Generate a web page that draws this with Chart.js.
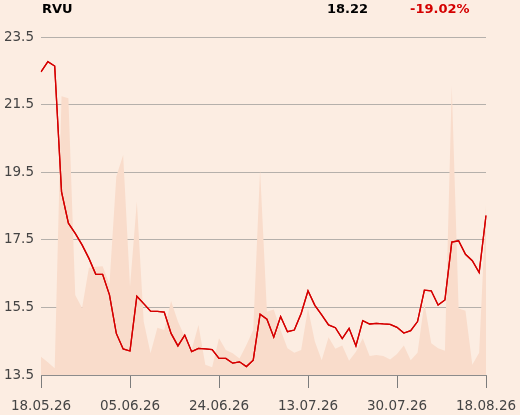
<!DOCTYPE html>
<html>
<head>
<meta charset="utf-8">
<script src="https://cdn.jsdelivr.net/npm/chart.js@4.4.1/dist/chart.umd.min.js"></script>
<style>
  html, body { margin: 0; padding: 0; background: #fcede2; }
  #wrap { position: relative; width: 520px; height: 415px; font-family: "DejaVu Sans", sans-serif; }
  canvas { position: absolute; left: 0; top: 0; }
  .hdr { position: absolute; top: 1px; font-size: 13px; font-weight: bold; line-height: 16px; color: #000; }
</style>
</head>
<body>
<div id="wrap">
  <canvas id="chart" width="520" height="415"></canvas>
  <span class="hdr" style="left:42px">RVU</span>
  <span class="hdr" style="left:327px">18.22</span>
  <span class="hdr" style="left:410px;color:#d40000">-19.02%</span>
</div>
<script>
// trading days shown on the x axis
const dates = [
  '18.05.26','19.05.26','20.05.26','21.05.26','22.05.26','26.05.26','27.05.26','28.05.26','29.05.26',
  '01.06.26','02.06.26','03.06.26','04.06.26','05.06.26',
  '08.06.26','09.06.26','10.06.26','11.06.26','12.06.26',
  '15.06.26','16.06.26','17.06.26','18.06.26','19.06.26',
  '22.06.26','23.06.26','24.06.26','25.06.26','26.06.26',
  '29.06.26','30.06.26','01.07.26','02.07.26','03.07.26',
  '06.07.26','07.07.26','08.07.26','09.07.26','10.07.26',
  '13.07.26','14.07.26','15.07.26','16.07.26','17.07.26',
  '20.07.26','21.07.26','22.07.26','23.07.26','24.07.26',
  '27.07.26','28.07.26','29.07.26','30.07.26','31.07.26',
  '03.08.26','04.08.26','05.08.26','06.08.26','07.08.26',
  '10.08.26','11.08.26','12.08.26','13.08.26','14.08.26',
  '17.08.26','18.08.26'
];
const tickLabels = ['18.05.26', '05.06.26', '24.06.26', '13.07.26', '30.07.26', '18.08.26'];
const priceTicks = [13.5, 15.5, 17.5, 19.5, 21.5, 23.5];

// closing price
const price = [
  22.47, 22.77, 22.64, 18.92, 17.99, 17.69, 17.35, 16.95, 16.48, 16.48,
  15.87, 14.73, 14.27, 14.21, 15.83, 15.61, 15.39, 15.38, 15.36, 14.73,
  14.36, 14.68, 14.19, 14.29, 14.27, 14.25, 13.99, 13.99, 13.85, 13.89,
  13.75, 13.94, 15.30, 15.15, 14.62, 15.23, 14.78, 14.83, 15.32, 15.99,
  15.56, 15.28, 14.98, 14.90, 14.58, 14.88, 14.36, 15.11, 15.01, 15.03,
  15.01, 15.00, 14.91, 14.74, 14.81, 15.08, 16.01, 15.99, 15.57, 15.72,
  17.43, 17.47, 17.07, 16.88, 16.53, 18.22
];

// traded volume (relative, 0-100)
const volume = [
  5.4, 3.8, 2.0, 82.5, 81.9, 23.7, 19.8, 31.7, 32.0, 32.2,
  26.9, 58.7, 65.1, 26.1, 51.3, 15.8, 6.4, 14.0, 13.3, 21.9,
  15.8, 11.3, 7.4, 14.8, 3.0, 2.3, 10.9, 7.4, 6.4, 4.9,
  8.9, 13.3, 60.7, 18.7, 19.4, 13.3, 7.9, 6.6, 7.4, 19.7,
  9.9, 4.4, 11.2, 7.8, 8.7, 4.2, 6.9, 10.9, 5.6, 5.9,
  5.6, 4.6, 6.2, 8.7, 4.4, 6.6, 21.4, 9.4, 7.9, 7.2,
  85.5, 19.7, 19.0, 3.0, 6.6, 50.3
];

// grid is drawn above the volume area, so redraw the price line last
const lineOnTop = {
  id: 'lineOnTop',
  afterDraw(chart) {
    const a = chart.chartArea;
    const ctx = chart.ctx;
    ctx.save();
    ctx.beginPath();
    ctx.rect(a.left, a.top - 3, a.right - a.left + 1, a.bottom - a.top + 6);
    ctx.clip();
    chart.getDatasetMeta(0).controller.draw();
    ctx.restore();
  }
};

new Chart(document.getElementById('chart'), {
  type: 'line',
  data: {
    labels: dates,
    datasets: [
      {
        data: price,
        yAxisID: 'y',
        borderColor: '#d50000',
        borderWidth: 1.3,
        pointRadius: 0,
        tension: 0,
        fill: false
      },
      {
        data: volume,
        yAxisID: 'vol',
        backgroundColor: '#f9dccb',
        borderWidth: 0,
        pointRadius: 0,
        tension: 0,
        fill: 'origin'
      }
    ]
  },
  options: {
    responsive: false,
    animation: false,
    layout: { padding: { top: 37, right: 34, bottom: 0, left: 0 } },
    plugins: { legend: { display: false }, tooltip: { enabled: false } },
    scales: {
      x: {
        type: 'category',
        offset: false,
        afterFit: s => { s.height = 40; s.paddingLeft = 0; s.paddingRight = 0; },
        border: { display: true, color: '#8c8c8c', width: 1 },
        grid: { drawOnChartArea: false, drawTicks: true, tickLength: 13, color: '#7c7c7c' },
        ticks: {
          autoSkip: false,
          maxRotation: 0,
          padding: 10,
          color: '#444',
          font: { family: 'DejaVu Sans', size: 13.5 },
          callback: (v, i) => tickLabels.includes(dates[i]) ? dates[i] : null
        }
      },
      y: {
        position: 'left',
        min: 13.5,
        max: 23.5,
        z: 1,
        afterFit: s => { s.width = 41; s.paddingTop = 0; s.paddingBottom = 0; },
        afterBuildTicks: s => { s.ticks = priceTicks.map(v => ({ value: v })); },
        border: { display: false },
        grid: { drawTicks: false, color: '#b5b0ab', lineWidth: 1 },
        ticks: {
          padding: 7,
          color: '#444',
          font: { family: 'DejaVu Sans', size: 13.5 },
          callback: v => v.toFixed(1)
        }
      },
      vol: {
        display: false,
        min: 0,
        max: 100
      }
    }
  },
  plugins: [lineOnTop]
});
</script>
</body>
</html>
